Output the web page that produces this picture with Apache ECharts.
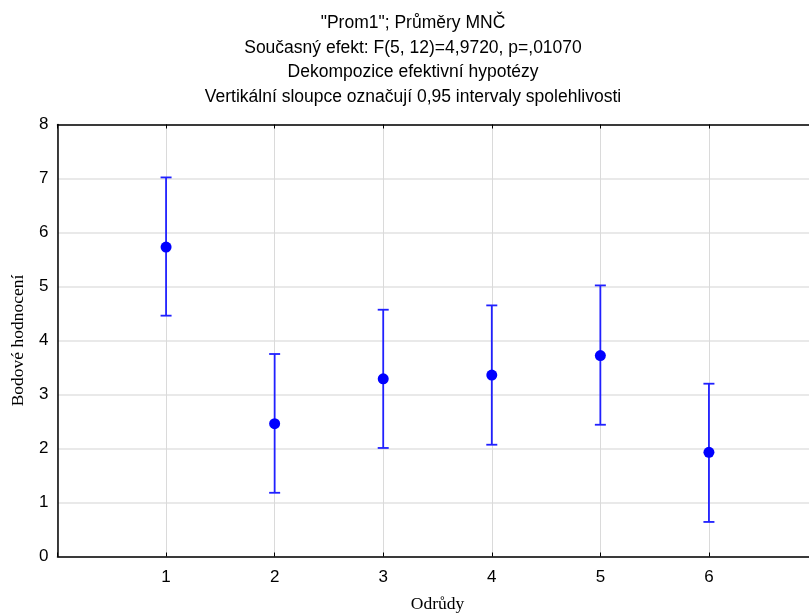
<!DOCTYPE html>
<html>
<head>
<meta charset="utf-8">
<script src="https://cdn.jsdelivr.net/npm/echarts@6/dist/echarts.min.js"></script>
<style>
  html, body { margin: 0; padding: 0; background: #fff; }
  #chart { width: 809px; height: 615px; }
</style>
</head>
<body>
<div id="chart"></div>
<script>
// odrůdy (kategorie na ose x)
const odrudy = [1, 2, 3, 4, 5, 6]
// průměry MNČ
const prumery = [5.73, 2.46, 3.29, 3.36, 3.72, 1.93]
// dolní a horní mez 0,95 intervalu spolehlivosti
const dolniMez = [4.46, 1.18, 2.01, 2.07, 2.44, 0.64]
const horniMez = [7.02, 3.75, 4.57, 4.65, 5.02, 3.20]
const titulky = [
  '"Prom1"; Průměry MNČ',
  'Současný efekt: F(5, 12)=4,9720, p=,01070',
  'Dekompozice efektivní hypotézy',
  'Vertikální sloupce označují 0,95 intervaly spolehlivosti'
]

const chart = echarts.init(document.getElementById('chart'))

const intervalData = odrudy.map((x, i) => [x, dolniMez[i], horniMez[i]])
const bodyData = odrudy.map((x, i) => [x, prumery[i]])

const sans = '"Liberation Sans", Arial, sans-serif'
const serif = '"Liberation Serif", "Times New Roman", serif'

const option = {
  animation: false,
  backgroundColor: '#fff',
  graphic: titulky.map((t, i) => ({
    type: 'text',
    x: 413,
    y: 23 + i * 24.7,
    style: {
      text: t,
      fontFamily: sans,
      fontSize: 17.5,
      fill: '#000',
      align: 'center',
      verticalAlign: 'middle'
    }
  })),
  grid: {
    left: 57.5,
    top: 124.5,
    width: 760,
    height: 432,
    outerBoundsMode: 'none',
    containLabel: false
  },
  xAxis: [{
    type: 'value',
    min: 0,
    max: 7,
    interval: 1,
    name: 'Odrůdy',
    nameLocation: 'middle',
    nameGap: 39,
    nameTextStyle: { fontFamily: serif, fontSize: 17.5, color: '#000' },
    axisLine: { show: true, lineStyle: { color: '#000', width: 1.5 } },
    axisTick: { show: true, inside: true, length: 4, lineStyle: { color: '#000' } },
    axisLabel: {
      fontFamily: sans, fontSize: 17, color: '#000', margin: 12,
      formatter: v => (v >= 1 && v <= 6) ? String(v) : ''
    },
    splitLine: { show: true, lineStyle: { color: '#dadada', width: 1 } }
  }, {
    type: 'value',
    position: 'top',
    min: 0,
    max: 7,
    interval: 1,
    axisLine: { show: true, lineStyle: { color: '#000', width: 1.5 } },
    axisTick: { show: true, inside: true, length: 4, lineStyle: { color: '#000' } },
    axisLabel: { show: false },
    splitLine: { show: false }
  }],
  yAxis: {
    type: 'value',
    min: 0,
    max: 8,
    interval: 1,
    name: 'Bodové hodnocení',
    nameLocation: 'middle',
    nameGap: 30,
    nameRotate: 90,
    nameTextStyle: { fontFamily: serif, fontSize: 17.5, color: '#000' },
    axisLine: { show: true, lineStyle: { color: '#000', width: 1.5 } },
    axisTick: { show: false },
    axisLabel: { fontFamily: sans, fontSize: 17, color: '#000', margin: 9 },
    splitLine: { show: true, lineStyle: { color: '#e2e2e2', width: 1.5 } }
  },
  series: [{
    type: 'custom',
    name: 'interval',
    data: intervalData,
    renderItem: (params, api) => {
      const x = api.value(0)
      const lo = api.coord([x, api.value(1)])
      const hi = api.coord([x, api.value(2)])
      const cap = 5.5
      const style = { stroke: '#2020ff', lineWidth: 1.8 }
      return {
        type: 'group',
        children: [
          { type: 'line', shape: { x1: lo[0], y1: lo[1], x2: hi[0], y2: hi[1] }, style },
          { type: 'line', shape: { x1: hi[0] - cap, y1: hi[1], x2: hi[0] + cap, y2: hi[1] }, style },
          { type: 'line', shape: { x1: lo[0] - cap, y1: lo[1], x2: lo[0] + cap, y2: lo[1] }, style }
        ]
      }
    },
    z: 2
  }, {
    type: 'scatter',
    name: 'prumer',
    data: bodyData,
    symbol: 'circle',
    symbolSize: 11,
    itemStyle: { color: '#0000ff', opacity: 1 },
    z: 3
  }]
}

chart.setOption(option)
</script>
</body>
</html>
